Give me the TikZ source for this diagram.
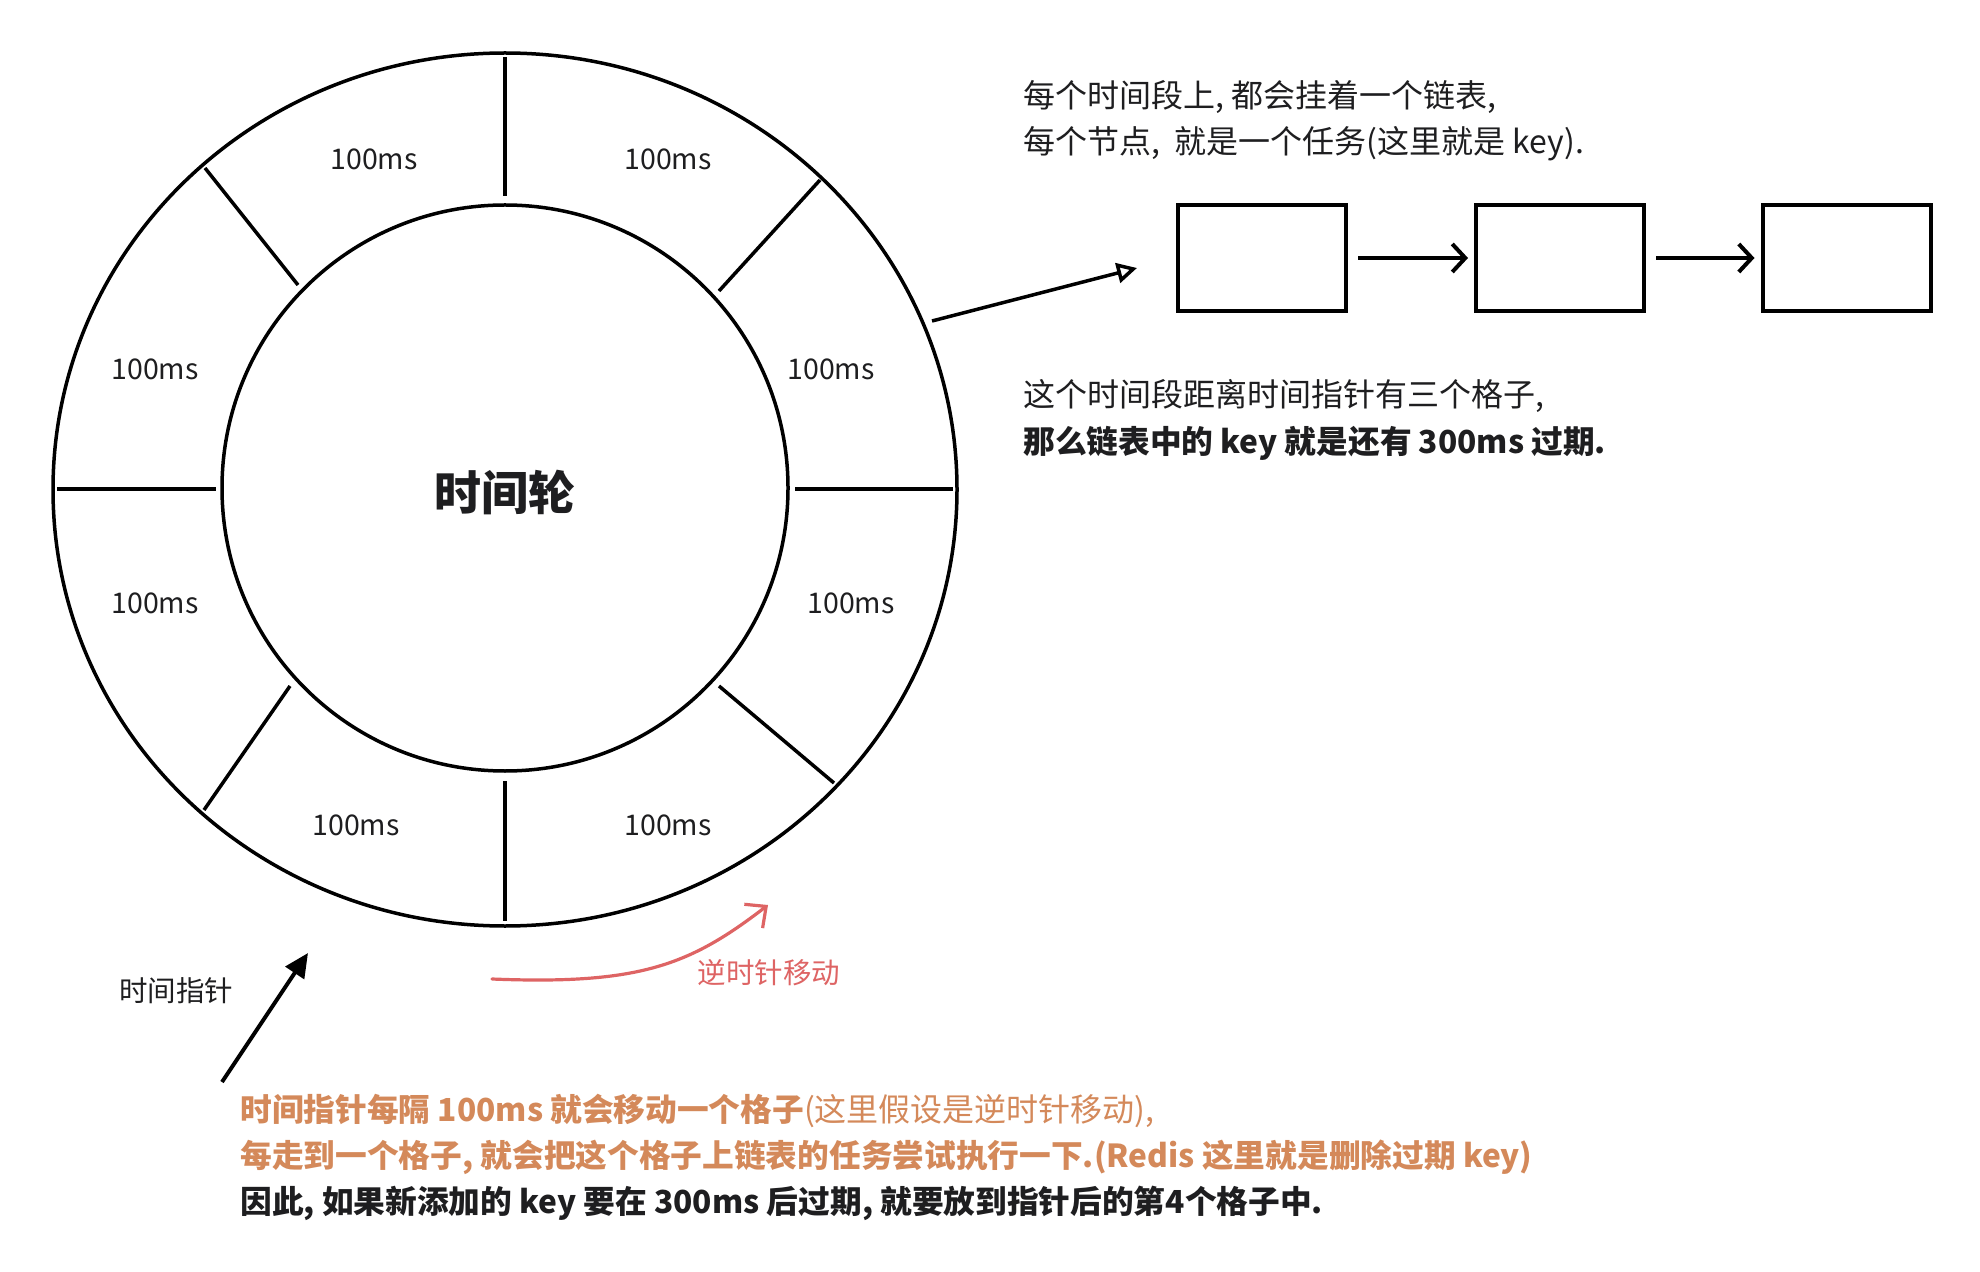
\documentclass[tikz,border=0pt]{standalone}
\usepackage{fontspec}
\setmainfont{Noto Sans CJK SC}
\usetikzlibrary{arrows.meta,shapes.geometric}
\definecolor{ink}{RGB}{30,30,32}
\definecolor{orng}{RGB}{212,137,90}
\definecolor{redc}{RGB}{222,100,100}
\tikzset{
  lbl/.style={font=\fontsize{14.25pt}{17pt}\selectfont, text=ink, inner sep=0pt},
  txt/.style={font=\fontsize{16pt}{19pt}\selectfont, text=ink, anchor=west, inner sep=0pt},
  boldtxt/.style={txt, font=\fontsize{15.85pt}{19pt}\selectfont\bfseries},
  ringline/.style={line width=1.75pt, draw=black},
  listbox/.style={draw=black, line width=2pt, minimum width=84pt, minimum height=53pt, inner sep=0pt},
  nextarrow/.style={line width=2pt, -{Straight Barb[length=6.5pt,width=14pt,line width=2pt]}, shorten <=5pt, shorten >=3pt},
}
\begin{document}
\begin{tikzpicture}[x=0.5pt,y=-0.5pt]
\useasboundingbox[fill=white] (0,0) rectangle (1980,1272);

% wheel
\node[ringline, ellipse, minimum width=452pt, minimum height=436.5pt, inner sep=0pt] (outer) at (505,489.5) {};
\node[ringline, circle, minimum size=283pt, inner sep=0pt] (inner) at (505,488) {};
\node[font=\fontsize{23.5pt}{28pt}\selectfont\bfseries, text=ink, inner sep=0pt] (wheel) at (505,493) {时间轮};

% spokes
\draw[ringline] (505,57) -- (505,196);
\draw[ringline] (505,781) -- (505,921);
\draw[ringline] (57,489) -- (216,489);
\draw[ringline] (795,489) -- (953,489);
\draw[ringline] (205,168) -- (298,285);
\draw[ringline] (820,180) -- (719,291);
\draw[ringline] (290,686) -- (204,810);
\draw[ringline] (719,686) -- (834,783);

% slot labels
\node[lbl] (s1) at (374,159) {100ms};
\node[lbl] (s2) at (668,159) {100ms};
\node[lbl] (s3) at (155,369) {100ms};
\node[lbl] (s4) at (831,369) {100ms};
\node[lbl] (s5) at (155,603) {100ms};
\node[lbl] (s6) at (851,603) {100ms};
\node[lbl] (s7) at (356,825) {100ms};
\node[lbl] (s8) at (668,825) {100ms};

% linked list
\node[listbox] (b1) at (1262,258) {};
\node[listbox] (b2) at (1560,258) {};
\node[listbox] (b3) at (1846.5,258) {};
\draw[nextarrow] (b1) -- (b2);
\draw[nextarrow] (b2) -- (b3);

\coordinate (slotpt) at (932,321);
\coordinate (listpt) at (1137,268);
\draw[line width=1.75pt, -{Triangle[open,length=10pt,width=10pt,line width=1.75pt]}] (slotpt) -- (listpt);

% right texts
\node[txt] (t1) at (1023,97.5) {每个时间段上, 都会挂着一个链表,};
\node[txt] (t2) at (1023,143.5) {每个节点, \ 就是一个任务(这里就是 key).};
\node[txt] (t3) at (1023,396) {这个时间段距离时间指针有三个格子,};
\node[boldtxt] (t4) at (1023,443) {那么链表中的 key 就是还有 300ms 过期.};

% pointer
\node[lbl] (ptrlbl) at (176,991) {时间指针};
\coordinate (ptrtail) at (222,1082);
\coordinate (ptrhead) at (308,953);
\draw[line width=2pt, -{Triangle[length=12pt,width=11pt]}] (ptrtail) -- (ptrhead);

% counter-clockwise arrow
\node[lbl, text=redc] (ccw) at (769,973) {逆时针移动};
\coordinate (ccwtail) at (492,979);
\coordinate (ccwhead) at (768,905);
\draw[redc, line width=1.6pt, line cap=round, -{Straight Barb[length=8pt,width=15pt,line width=1.6pt]}]
  (ccwtail) .. controls (640,985) and (690,965) .. (ccwhead);

% bottom texts
\node[txt, text=orng] (m1) at (240,1111) {\fontsize{15.85pt}{19pt}\selectfont\textbf{时间指针每隔 100ms 就会移动一个格子}\fontsize{16pt}{19pt}\selectfont(这里假设是逆时针移动),};
\node[boldtxt, text=orng] (m2) at (240,1157) {每走到一个格子, 就会把这个格子上链表的任务尝试执行一下.(Redis 这里就是删除过期 key)};
\node[boldtxt] (m3) at (240,1203) {因此, 如果新添加的 key 要在 300ms 后过期, 就要放到指针后的第4个格子中.};
\end{tikzpicture}
\end{document}
